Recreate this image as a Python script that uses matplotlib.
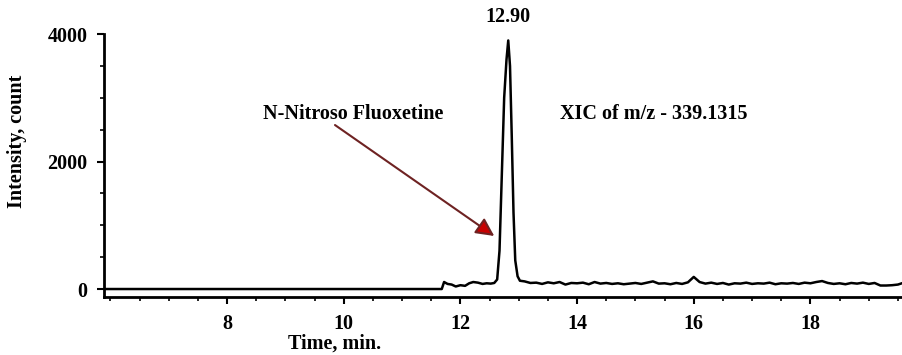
import numpy as np
import matplotlib.pyplot as plt

plt.rcParams['font.family'] = ['Liberation Serif', 'DejaVu Serif']
plt.rcParams['font.weight'] = 'bold'

# XIC trace (time in min, intensity in counts)
time_min = [5.89, 11.68, 11.72, 11.78, 11.85, 11.92, 12.00, 12.08, 12.15, 12.22,
            12.30, 12.38, 12.45, 12.52, 12.58, 12.63, 12.67, 12.71, 12.75, 12.79,
            12.82, 12.85, 12.88, 12.91, 12.94, 12.98, 13.02,
            13.1, 13.2, 13.3, 13.4, 13.5, 13.6, 13.7, 13.8, 13.9, 14.0,
            14.1, 14.2, 14.3, 14.4, 14.5, 14.6, 14.7, 14.8, 14.9, 15.0,
            15.1, 15.2, 15.3, 15.4, 15.5, 15.6, 15.7, 15.8, 15.9, 16.0,
            16.1, 16.2, 16.3, 16.4, 16.5, 16.6, 16.7, 16.8, 16.9, 17.0,
            17.1, 17.2, 17.3, 17.4, 17.5, 17.6, 17.7, 17.8, 17.9, 18.0,
            18.1, 18.2, 18.3, 18.4, 18.5, 18.6, 18.7, 18.8, 18.9, 19.0,
            19.1, 19.2, 19.3, 19.4, 19.5, 19.6]
intensity = [0, 0, 110, 80, 70, 40, 60, 50, 90, 110,
             100, 80, 90, 85, 95, 150, 600, 1800, 3000, 3600,
             3900, 3500, 2400, 1200, 450, 200, 130,
             120, 95, 100, 80, 105, 90, 110, 70, 95, 90,
             100, 75, 110, 85, 95, 80, 90, 75, 85, 95,
             80, 100, 120, 85, 90, 75, 95, 80, 105, 190,
             110, 85, 100, 80, 95, 70, 90, 85, 100, 80,
             90, 85, 100, 75, 90, 85, 95, 80, 100, 90,
             110, 125, 95, 80, 90, 75, 95, 85, 100, 80,
             95, 55, 55, 60, 70, 100]

peak_rt = 12.82
peak_label = '12.90'
compound = 'N-Nitroso Fluoxetine'
xic_label = 'XIC of m/z - 339.1315'

fig = plt.figure(figsize=(9.02, 3.55), dpi=100)
ax = fig.add_axes([0.1153, 0.1634, 0.8847, 0.7406])

ax.plot(time_min, intensity, color='black', lw=1.8)

ax.set_xlim(5.89, 19.57)
ax.set_ylim(-125, 4000)
ax.set_xticks([8, 10, 12, 14, 16, 18])
ax.set_xticks(np.arange(6, 19.6, 0.5), minor=True)
ax.set_yticks([0, 2000, 4000])
ax.set_yticks(np.arange(0, 4001, 500), minor=True)
ax.tick_params(axis='both', which='major', labelsize=14.5, length=5, width=1.5, direction='out')
ax.tick_params(axis='both', which='minor', length=3, width=1.2, direction='out')
ax.tick_params(axis='x', pad=7)
ax.tick_params(axis='y', pad=7)

for s in ['top', 'right']:
    ax.spines[s].set_visible(False)
for s in ['left', 'bottom']:
    ax.spines[s].set_linewidth(2)

ax.text(peak_rt, 4270, peak_label, ha='center', va='center', fontsize=14.5, fontweight='bold', clip_on=False)
ax.text(15.32, 2746, xic_label, ha='center', va='center', fontsize=14.5, fontweight='bold')
ax.text(10.16, 2746, compound, ha='center', va='center', fontsize=14.5, fontweight='bold')
ax.annotate('', xy=(12.58, 832), xytext=(9.85, 2573),
            arrowprops=dict(arrowstyle='-|>,head_length=1.1,head_width=0.55',
                            edgecolor='#6e2222', facecolor='#c80000', lw=1.5,
                            shrinkA=0, shrinkB=0))

fig.text(335 / 902, 1 - 344 / 355, 'Time, min.', ha='center', va='center', fontsize=14.5, fontweight='bold')
fig.text(17 / 902, 1 - 141 / 355, 'Intensity, count', ha='center', va='center',
         rotation=90, fontsize=14.5, fontweight='bold')

fig.savefig('out.png', dpi=100)
